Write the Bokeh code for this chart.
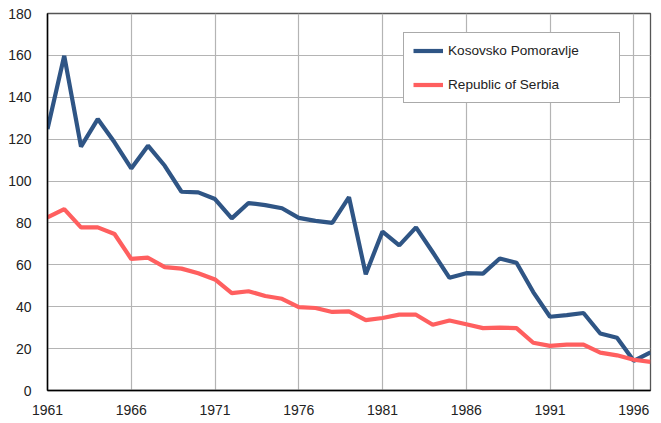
from bokeh.plotting import figure
from bokeh.models import ColumnDataSource, Legend, LegendItem, FixedTicker, Range1d
from bokeh.embed import file_html
from bokeh.resources import INLINE

years = list(range(1961, 1998))
kosovsko = [124.8, 159.8, 116.4, 129.6, 118.5, 106.0, 116.9, 107.3, 94.9, 94.6,
            91.4, 82.2, 89.5, 88.5, 87.0, 82.4, 81.0, 80.0, 92.3, 55.5,
            75.9, 69.3, 77.9, 66.0, 53.8, 56.0, 55.8, 63.0, 61.0, 47.0,
            35.2, 36.0, 37.0, 27.2, 25.2, 14.2, 18.2]
serbia = [82.7, 86.6, 77.9, 77.9, 74.7, 62.8, 63.4, 58.9, 58.2, 56.0,
          53.0, 46.5, 47.4, 45.1, 43.8, 39.8, 39.4, 37.5, 37.8, 33.6,
          34.6, 36.2, 36.2, 31.4, 33.4, 31.6, 29.8, 30.0, 29.8, 22.8,
          21.3, 21.9, 21.9, 18.1, 16.8, 14.7, 13.7]
x_ticks = [1961, 1966, 1971, 1976, 1981, 1986, 1991, 1996]
y_ticks = [0, 20, 40, 60, 80, 100, 120, 140, 160, 180]

src = ColumnDataSource(dict(x=years, k=kosovsko, s=serbia))

p = figure(width=658, height=417, output_backend="svg", toolbar_location=None,
           x_range=Range1d(1961, 1997), y_range=Range1d(0, 180),
           min_border_left=47, min_border_right=8, min_border_top=13, min_border_bottom=26)

FONT = "Liberation Sans"
l1 = p.line("x", "k", source=src, line_color="#2F5585", line_width=4.2)
l2 = p.line("x", "s", source=src, line_color="#FF5F5F", line_width=4.2)

p.xaxis.ticker = FixedTicker(ticks=x_ticks)
p.yaxis.ticker = FixedTicker(ticks=y_ticks)
for ax in (p.xaxis[0], p.yaxis[0]):
    ax.major_tick_line_color = None
    ax.minor_tick_line_color = None
    ax.axis_line_color = "black"
    ax.axis_line_width = 1.5
    ax.major_label_text_font = FONT
    ax.major_label_text_font_size = "14px"
    ax.major_label_text_color = "#222222"
p.xaxis.major_label_standoff = 8
p.yaxis.major_label_standoff = 10

p.xgrid.ticker = FixedTicker(ticks=x_ticks)
p.ygrid.ticker = FixedTicker(ticks=y_ticks)
p.grid.grid_line_color = "#b4b4b4"
p.grid.grid_line_width = 1.2

p.outline_line_color = "#555555"
p.outline_line_width = 1.3
p.background_fill_color = "white"
p.border_fill_color = "white"

legend = Legend(items=[LegendItem(label="Kosovsko Pomoravlje", renderers=[l1]),
                       LegendItem(label="Republic of Serbia", renderers=[l2])],
                location=(356, 287))
legend.label_text_font = FONT
legend.label_text_font_size = "13.6px"
legend.label_text_color = "#222222"
legend.border_line_color = "#555555"
legend.border_line_width = 1.3
legend.spacing = 17
legend.glyph_height = 17
legend.padding = 9
legend.margin = 0
legend.glyph_width = 30
legend.label_standoff = 5
legend.label_width = 162
legend.background_fill_alpha = 1
p.add_layout(legend, "center")

open("out.html", "w").write(file_html(p, INLINE))
